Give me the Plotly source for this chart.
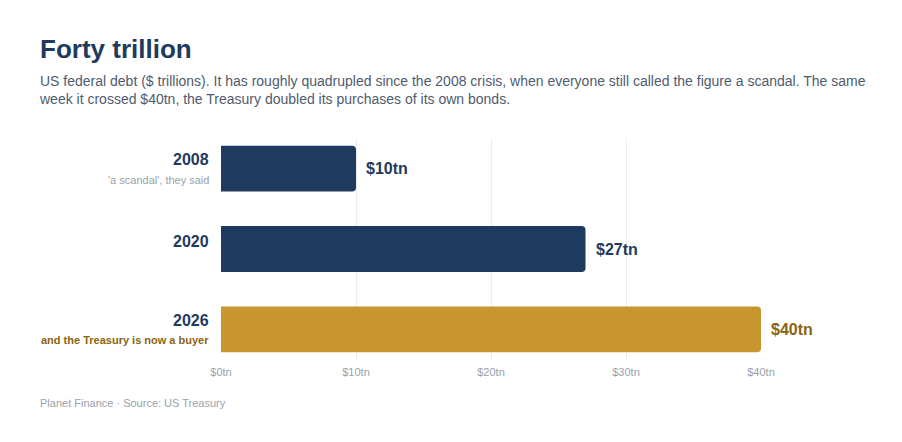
import plotly.graph_objects as go

years = ["2008", "2020", "2026"]
debt = [10, 27, 40]
value_labels = ["$10tn", "$27tn", "$40tn"]
notes = ["'a scandal', they said", "", "and the Treasury is now a buyer"]
tick_vals = [0, 10, 20, 30, 40]
tick_text = ["$0tn", "$10tn", "$20tn", "$30tn", "$40tn"]

NAVY = "#1f3a5f"
GOLD = "#c8962e"
GOLD_TEXT = "#8a6510"
GREY = "#9aa1ab"
bar_colors = [NAVY, NAVY, GOLD]
label_colors = [NAVY, NAVY, GOLD_TEXT]
note_colors = [GREY, GREY, GOLD_TEXT]

# page body adds an 8px offset, so layout pixels are shifted back by 8
L, T, R, B = 213, 130, 753, 352
W, H = 902, 442


def px(x):
    return (x - L) / (R - L)


def py(y):
    return (B - y) / (B - T)


order = years[::-1]  # top to bottom: 2008 first

fig = go.Figure()
fig.add_trace(go.Bar(
    y=years, x=debt, orientation="h",
    marker=dict(color=bar_colors, cornerradius=4, line=dict(width=0)),
    width=0.57, hoverinfo="skip",
))

for yr, val, lab, lc, note, nc in zip(years, debt, value_labels, label_colors, notes, note_colors):
    yi = order.index(yr)
    fig.add_annotation(
        x=val, y=yi, xref="x", yref="y", xanchor="left", yanchor="middle",
        xshift=8, showarrow=False, text="<b>" + lab + "</b>",
        font=dict(size=16, color=lc),
    )
    fig.add_annotation(
        x=px(203), xref="paper", y=yi, yref="y", xanchor="right", yanchor="middle",
        text="<b>" + yr + "</b>", showarrow=False, yshift=9 if note else 8,
        font=dict(size=16, color=NAVY),
    )
    if note:
        fig.add_annotation(
            x=px(203), xref="paper", y=yi, yref="y", xanchor="right", yanchor="middle",
            text=("<b>" + note + "</b>") if nc == GOLD_TEXT else note,
            showarrow=False, yshift=-11,
            font=dict(size=11, color=nc),
        )

fig.add_annotation(
    x=px(29), xref="paper", xanchor="left", y=py(82), yref="paper", yanchor="middle",
    showarrow=False, align="left",
    text="US federal debt ($ trillions). It has roughly quadrupled since the 2008 crisis, when everyone still called the figure a scandal. The same"
         "<br>week it crossed $40tn, the Treasury doubled its purchases of its own bonds.",
    font=dict(size=14, color="#4f5b6e"),
)
fig.add_annotation(
    x=px(30), xref="paper", xanchor="left", y=py(395), yref="paper", yanchor="middle",
    showarrow=False, text="Planet Finance · Source: US Treasury",
    font=dict(size=11, color=GREY),
)

fig.update_layout(
    width=W, height=H,
    paper_bgcolor="white", plot_bgcolor="white",
    margin=dict(l=L, r=W - R, t=T, b=H - B, autoexpand=False),
    font=dict(family="Liberation Sans", color="#4a5568"),
    showlegend=False,
    title=dict(
        text="<b>Forty trillion</b>", x=32 / W, xanchor="left", y=1 - 41 / H, yanchor="middle",
        font=dict(size=26, color=NAVY),
    ),
    xaxis=dict(
        range=[0, 40], tickvals=tick_vals, ticktext=tick_text,
        showgrid=True, gridcolor="#ececef", gridwidth=1, zeroline=False,
        tickfont=dict(size=11, color=GREY), ticks="", ticklabelstandoff=4,
        fixedrange=True,
    ),
    yaxis=dict(
        type="category", categoryorder="array", categoryarray=order, range=[-0.38, 2.38],
        showticklabels=False, showgrid=False, zeroline=False, fixedrange=True,
    ),
)

fig.write_html("out.html")
